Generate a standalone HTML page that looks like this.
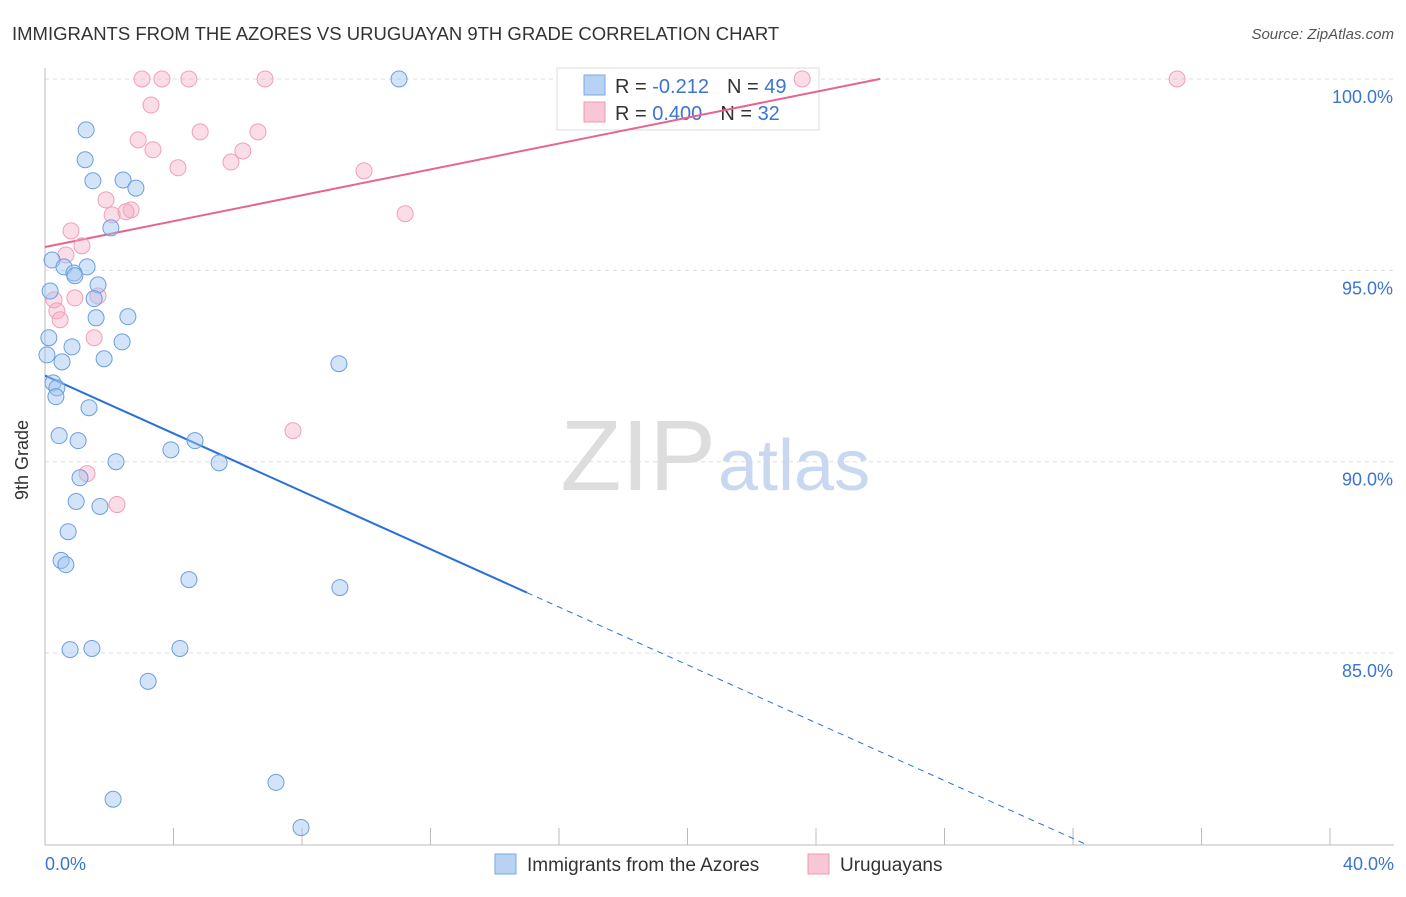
<!DOCTYPE html>
<html><head><meta charset="utf-8"><style>
body{margin:0;background:#fff;font-family:"Liberation Sans",sans-serif;}
svg text{font-family:"Liberation Sans",sans-serif;}
</style></head><body>
<svg width="1406" height="892" xmlns="http://www.w3.org/2000/svg">
<text x="12" y="40" font-size="18.5" fill="#333">IMMIGRANTS FROM THE AZORES VS URUGUAYAN 9TH GRADE CORRELATION CHART</text>
<text x="1394" y="39" font-size="15" fill="#555" font-style="italic" text-anchor="end">Source: ZipAtlas.com</text>
<g id="grid"></g>
<text x="716" y="490" font-size="100" fill="#ddd" text-anchor="end" font-family="Liberation Serif">ZIP</text>
<text x="718" y="490" font-size="72" fill="#c8d8f0">atlas</text>
<g>
<rect x="557" y="68" width="262" height="62" fill="#fff" stroke="#ddd"/>
<rect x="584" y="75" width="21" height="20" fill="#b8d2f4" stroke="#7aa8e6"/>
<rect x="584" y="102" width="21" height="20" fill="#f8c6d4" stroke="#f09ab2"/>
<text x="615" y="93" font-size="20" fill="#333">R = <tspan fill="#3a75d0">-0.212</tspan><tspan dx="18">N = </tspan><tspan fill="#3a75d0">49</tspan></text>
<text x="615" y="120" font-size="20" fill="#333">R = <tspan fill="#3a75d0">0.400</tspan><tspan dx="18">N = </tspan><tspan fill="#3a75d0"> 32</tspan></text>
</g>
<g id="trend"></g>
<g id="pts"></g>
<text x="28" y="460" font-size="18" fill="#333" text-anchor="middle" transform="rotate(-90 28 460)">9th Grade</text>
<text x="45" y="870" font-size="18" fill="#3a75d0">0.0%</text>
<text x="1394" y="870" font-size="18" fill="#3a75d0" text-anchor="end">40.0%</text>
<g>
<rect x="495" y="854" width="21" height="20" fill="#b8d2f4" stroke="#7aa8e6"/>
<text x="527" y="871" font-size="19" fill="#333">Immigrants from the Azores</text>
<rect x="808" y="854" width="21" height="20" fill="#f8c6d4" stroke="#f09ab2"/>
<text x="840" y="871" font-size="19" fill="#333">Uruguayans</text>
</g>
</svg>
<script>
const yTicks=[100,95,90,85];
const yTickLabels=["100.0%","95.0%","90.0%","85.0%"];
const xTicks=[0,4,8,12,16,20,24,28,32,36,40];
const blueX=[11.02,1.28,1.25,1.49,2.43,2.83,2.05,0.22,0.59,1.31,0.90,0.93,1.65,0.16,1.53,1.59,2.58,0.12,2.40,0.84,0.06,0.53,1.84,9.15,0.25,0.37,0.34,1.37,0.44,1.03,3.92,4.67,2.21,5.42,1.09,0.97,1.71,0.72,0.50,0.65,4.48,9.18,0.78,1.46,4.20,3.21,7.19,2.12,7.97];
const blueY=[100,98.67,97.89,97.34,97.36,97.15,96.11,95.27,95.09,95.09,94.93,94.86,94.62,94.46,94.26,93.76,93.79,93.24,93.13,93.00,92.79,92.61,92.69,92.56,92.06,91.93,91.70,91.41,90.68,90.55,90.31,90.55,90.00,89.97,89.58,88.96,88.83,88.17,87.42,87.31,86.92,86.71,85.09,85.12,85.12,84.26,81.62,81.18,80.44];
const pinkX=[3.02,3.64,4.48,6.85,23.57,35.24,3.30,4.83,6.63,2.90,3.36,6.16,5.79,4.14,9.93,1.90,2.68,2.09,2.52,11.21,0.81,1.15,0.65,0.28,0.93,1.65,0.37,0.47,1.53,7.72,1.31,2.24];
const pinkY=[100,100,100,100,100,100,99.32,98.62,98.62,98.41,98.15,98.12,97.83,97.68,97.60,96.84,96.58,96.45,96.53,96.48,96.03,95.64,95.40,94.23,94.28,94.33,93.94,93.71,93.24,90.81,89.69,88.88];
const blueTrend=[92.25,-0.378];const blueSolidEnd=15.0;
const pinkTrend=[95.61,0.169];const pinkEnd=26.0;
const X=v=>45+v/40*1285, Y=v=>79+(100-v)*38.27;
const NS="http://www.w3.org/2000/svg";
function mk(p,t,a){const e=document.createElementNS(NS,t);for(const k in a)e.setAttribute(k,a[k]);p.appendChild(e);return e;}
const g=document.getElementById('grid');
yTicks.forEach((t,i)=>{
 const l=mk(g,'line',{x1:45,x2:1394,y1:Y(t),y2:Y(t),stroke:'#ddd','stroke-dasharray':'4,4'});
 
 
 const tx=mk(g,'text',{x:1393,y:Y(t)+24,'font-size':18,fill:'#3a75d0','text-anchor':'end'});
 tx.textContent=yTickLabels[i];
 
 
});
const ax=mk(g,'line',{x1:45,x2:1394,y1:845,y2:845,stroke:'#bbb'});


const ay=mk(g,'line',{x1:45,x2:45,y1:68,y2:845,stroke:'#bbb'});


xTicks.forEach(t=>{const l=mk(g,'line',{x1:X(t),x2:X(t),y1:828,y2:845,stroke:'#bbb'});
 
 });
const tr=document.getElementById('trend');
const bf=x=>blueTrend[0]+blueTrend[1]*x, pf=x=>pinkTrend[0]+pinkTrend[1]*x;
const bEnd=(80-blueTrend[0])/blueTrend[1];
let l1=mk(tr,'line',{x1:X(0),y1:Y(bf(0)),x2:X(blueSolidEnd),y2:Y(bf(blueSolidEnd)),stroke:'#2a70d8','stroke-width':2});


let l2=mk(tr,'line',{x1:X(blueSolidEnd),y1:Y(bf(blueSolidEnd)),x2:X(bEnd),y2:Y(bf(bEnd)),stroke:'#2a70d8','stroke-width':1,'stroke-dasharray':'6,5'});


let l3=mk(tr,'line',{x1:X(0),y1:Y(pf(0)),x2:X(pinkEnd),y2:Y(pf(pinkEnd)),stroke:'#e8648e','stroke-width':2});


const pg=document.getElementById('pts');
pinkX.forEach((x,i)=>{const c=mk(pg,'circle',{cx:X(x),cy:Y(pinkY[i]),r:8,fill:'rgba(245,170,195,0.4)',stroke:'#f0a0b8','stroke-width':1});
 
 });
blueX.forEach((x,i)=>{const c=mk(pg,'circle',{cx:X(x),cy:Y(blueY[i]),r:8,fill:'rgba(160,195,240,0.45)',stroke:'#6a9fe0','stroke-width':1});
 
 });
</script>
</body></html>
